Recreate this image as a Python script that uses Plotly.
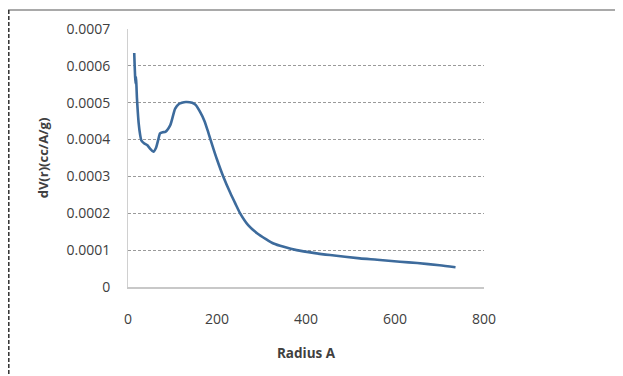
import plotly.graph_objects as go

radius = [14, 15, 16, 17, 18, 19, 20, 22, 24, 27, 30, 36, 43, 50, 57, 63, 68, 72, 78, 84,
          95, 106, 115, 121, 130, 144, 152, 162, 172, 181, 192, 200, 214, 230, 241, 252, 270,
          290, 310, 327, 350, 379, 420, 454, 521, 560, 611, 650, 700, 736]
dv = [0.000635, 0.000600, 0.000570, 0.000552, 0.000570, 0.000545, 0.000515, 0.000475,
      0.000444, 0.000415, 0.000398, 0.000390, 0.000385, 0.000375, 0.000367, 0.000378,
      0.000400, 0.000417, 0.000420, 0.000421, 0.000439, 0.000484, 0.000497, 0.000500,
      0.000502, 0.000500, 0.000494, 0.000475, 0.000450, 0.000417, 0.000375, 0.000346,
      0.000300, 0.000255, 0.000227, 0.000200, 0.000168, 0.000146, 0.000130, 0.000118,
      0.000109, 0.000100, 0.000092, 0.0000867, 0.0000777, 0.000074, 0.0000686, 0.000065,
      0.000059, 0.0000535]

y_tickvals = [0, 0.0001, 0.0002, 0.0003, 0.0004, 0.0005, 0.0006, 0.0007]
y_ticktext = ["0", "0.0001", "0.0002", "0.0003", "0.0004", "0.0005", "0.0006", "0.0007"]
x_tickvals = [0, 200, 400, 600, 800]
x_ticktext = ["0", "200", "400", "600", "800"]

# page body has an 8px margin; figure is laid out in its own coordinates
W, H = 615, 368
L, R, T, B = 120, 476, 21, 279
pw, ph = R - L, B - T

def px(x):
    return (x - L) / pw

def py(y):
    return (B - y) / ph

fig = go.Figure()
fig.add_trace(go.Scatter(
    x=radius, y=dv, mode="lines",
    line=dict(color="#3d6b9c", width=2.6, shape="spline", smoothing=0.6),
    hoverinfo="skip", showlegend=False,
))

font_family = "Open Sans, Noto Sans, sans-serif"
fig.update_layout(
    width=W, height=H,
    margin=dict(l=L, r=W - R, t=T, b=H - B),
    paper_bgcolor="white", plot_bgcolor="white",
    font=dict(family=font_family, color="#404040", size=13),
    xaxis=dict(
        range=[0, 800], tickvals=x_tickvals, ticktext=x_ticktext,
        showgrid=False, zeroline=False, showline=True, linecolor="#c8c8c8", linewidth=1.5,
        ticks="", ticklabelstandoff=18, tickfont=dict(size=14, color="#404040"),
        title=dict(text="<b>Radius A</b>", font=dict(size=13.5, color="#404040"), standoff=22),
    ),
    yaxis=dict(
        range=[0, 0.0007], tickvals=y_tickvals, ticktext=y_ticktext,
        showgrid=True, gridcolor="#9a9a9a", griddash="3px,2px", gridwidth=1,
        zeroline=False, showline=True, linecolor="#d0d0d0", linewidth=1,
        ticks="", ticklabelstandoff=14, tickfont=dict(size=14, color="#404040"),
        title=dict(text="<b>dV(r)(cc/A/g)</b>", font=dict(size=13, color="#404040"), standoff=14),
    ),
    shapes=[
        dict(type="line", xref="paper", yref="paper",
             x0=px(0), x1=px(W), y0=py(2), y1=py(2),
             line=dict(color="#8c8c8c", width=1.5)),
        dict(type="line", xref="paper", yref="paper",
             x0=px(0.8), x1=px(0.8), y0=py(2), y1=py(H),
             line=dict(color="#303030", width=1.5, dash="4px,2px")),
    ],
)

fig.write_html("out.html", config={"displayModeBar": False},
               post_script="document.body.style.overflow='hidden';")
